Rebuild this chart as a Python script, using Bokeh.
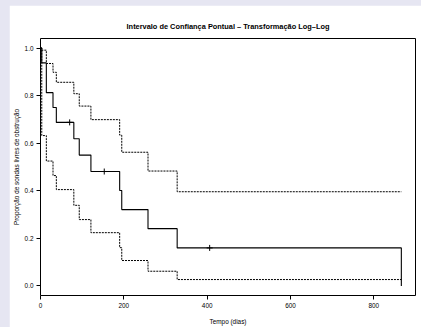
import re
from bokeh.plotting import figure
from bokeh.models import Range1d, FixedTicker, NumeralTickFormatter
from bokeh.embed import file_html
from bokeh.resources import INLINE

# Kaplan-Meier estimate
km_time = [0, 3, 14, 30, 38, 80, 93, 121, 190, 195, 258, 328, 866]
km_surv = [1.0, 0.9375, 0.8125, 0.75, 0.6875, 0.619, 0.550, 0.481, 0.401, 0.321, 0.241, 0.160, 0.0]

# pointwise confidence limits (log-log)
ci_time = [0, 3, 14, 30, 38, 80, 93, 121, 190, 195, 258, 328, 866]
ci_upper = [1.0, 0.991, 0.935, 0.898, 0.856, 0.808, 0.756, 0.699, 0.634, 0.562, 0.483, 0.396, 0.396]
ci_lower = [1.0, 0.632, 0.525, 0.464, 0.405, 0.339, 0.279, 0.224, 0.161, 0.107, 0.062, 0.027, 0.027]

# censored observations
cens_time = [70, 153, 406]
cens_surv = [0.6875, 0.481, 0.160]

x_ticks = [0, 200, 400, 600, 800]
y_ticks = [0.0, 0.2, 0.4, 0.6, 0.8, 1.0]

title_text = "Intervalo de Confiança Pontual \u2013 Transformação Log\u2013Log"
x_label = "Tempo (dias)"
y_label = "Proporção de sondas livres de obstrução"

FONT = "Liberation Sans"

p = figure(width=412, height=322, output_backend="svg", toolbar_location=None,
           x_range=Range1d(0, 900), y_range=Range1d(-0.04, 1.04),
           min_border_left=31, min_border_right=6, min_border_top=33, min_border_bottom=28,
           title=title_text)
p.margin = (5, 0, 0, 9)
p.background_fill_color = "white"
p.border_fill_color = "white"
p.outline_line_color = "black"
p.outline_line_width = 1
p.grid.visible = False

p.title.align = "center"
p.title.text_font = FONT
p.title.text_font_size = "7.4px"
p.title.text_font_style = "bold"
p.title.text_color = "black"
p.title.standoff = 16

p.xaxis.ticker = FixedTicker(ticks=x_ticks)
p.yaxis.ticker = FixedTicker(ticks=y_ticks)
p.yaxis.formatter = NumeralTickFormatter(format="0.0")
p.xaxis.axis_label = x_label
p.yaxis.axis_label = y_label
for ax in (p.xaxis, p.yaxis):
    ax.axis_line_color = None
    ax.major_tick_out = 4
    ax.major_tick_in = 0
    ax.major_tick_line_color = "black"
    ax.minor_tick_line_color = None
    ax.major_label_text_font = FONT
    ax.major_label_text_font_size = "6.4px"
    ax.major_label_text_color = "black"
    ax.axis_label_text_font = FONT
    ax.axis_label_text_font_size = "6.4px"
    ax.axis_label_text_font_style = "normal"
    ax.axis_label_text_color = "black"
    ax.major_label_standoff = 3
p.xaxis.axis_label_standoff = 7
p.yaxis.axis_label_standoff = 2

p.step(x=ci_time, y=ci_upper, mode="after", line_color="black", line_width=1, line_dash="2 1")
p.step(x=ci_time, y=ci_lower, mode="after", line_color="black", line_width=1, line_dash="2 1")
p.step(x=km_time, y=km_surv, mode="after", line_color="black", line_width=1.1)
p.scatter(x=cens_time, y=cens_surv, marker="cross", size=6, line_color="black", line_width=1)

html = file_html(p, INLINE)
html = re.sub(r"<head>", "<head><style>html,body{margin:0;padding:0;background-color:#e6e6f2;}</style>", html, count=1)
open("out.html", "w").write(html)
